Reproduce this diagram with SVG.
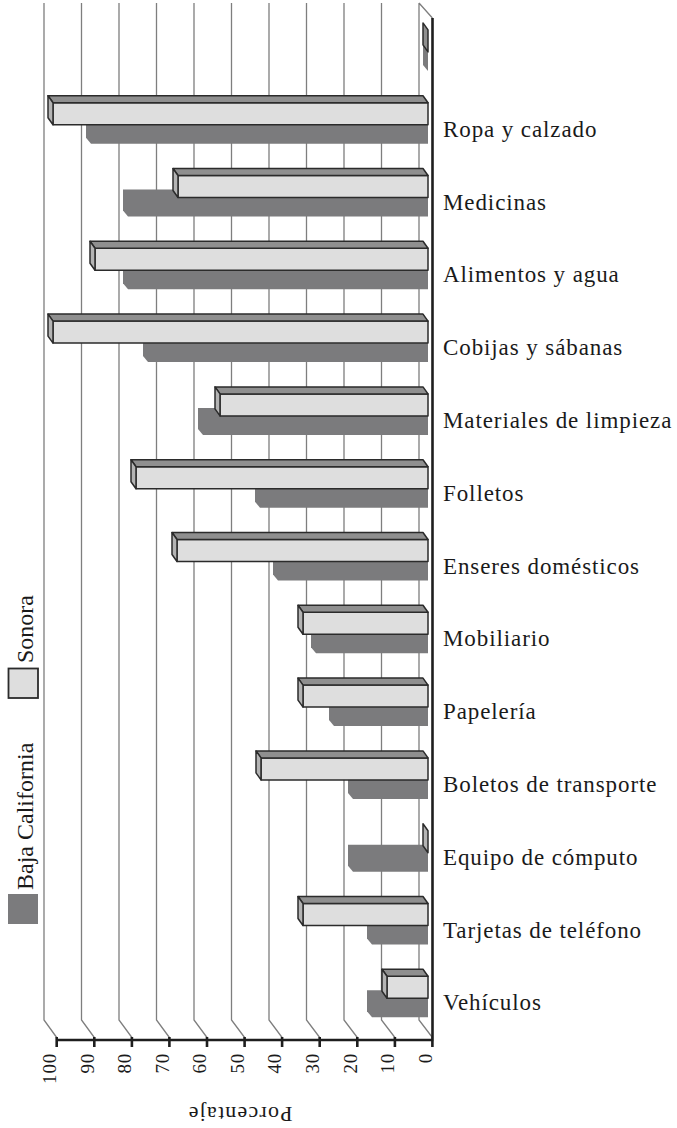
<svg xmlns="http://www.w3.org/2000/svg" width="677" height="1128" viewBox="0 0 677 1128">
<style>
.grid{stroke:#7e7e7e;stroke-width:1.3;fill:none}
.axis{stroke:#1e1e1e;stroke-width:2.6;fill:none}
.sf{fill:#dedede;stroke:#2b2b2b;stroke-width:1.5;stroke-linejoin:round}
.st{fill:#8f8f8f;stroke:#2b2b2b;stroke-width:1.5;stroke-linejoin:round}
.ss{fill:#b4b4b4;stroke:#2b2b2b;stroke-width:1.5;stroke-linejoin:round}
.bc{fill:#7b7b7d}
.lbl{font-family:"Liberation Serif",serif;font-size:23px;fill:#1a1a1a;letter-spacing:0.9px}
.tick{font-family:"Liberation Serif",serif;font-size:19px;fill:#1a1a1a;letter-spacing:0.8px;text-anchor:end}
.ttl{font-family:"Liberation Serif",serif;font-size:22px;fill:#1a1a1a;letter-spacing:1.2px;text-anchor:middle}
.leg{font-family:"Liberation Serif",serif;font-size:24px;fill:#1a1a1a}
</style>
<rect width="677" height="1128" fill="#ffffff"/>
<g id="gridlines">
<path class="grid" d="M44 3V1020L56.7 1037.5M81.5 3V1020L94.3 1037.5M119 3V1020L131.9 1037.5M156.5 3V1020L169.4 1037.5M194 3V1020L207 1037.5M231.5 3V1020L244.6 1037.5M269 3V1020L282.1 1037.5M306.5 3V1020L319.7 1037.5M344 3V1020L357.3 1037.5M381.5 3V1020L394.9 1037.5M419 3V1020L432.4 1037.5M419 3L432.4 18"/>
</g>
<g id="cat-empty" transform="translate(0,22.9)">
<polygon class="bc" points="423,21 428,27 428,48 423,42"/>
<polygon class="st" points="423,0 428,7 428,29 423,22"/>
</g>
<g id="cat-ropa" transform="translate(0,95.7)">
<polygon class="bc" points="86,21 428,21 428,48 91,48 86,42"/>
<rect class="sf" x="53" y="7" width="375" height="22"/>
<polygon class="st" points="48,0 423,0 428,7 53,7"/>
<polygon class="ss" points="48,0 53,7 53,29 48,22"/>
<text class="lbl" x="443" y="41">Ropa y calzado</text>
</g>
<g id="cat-medicinas" transform="translate(0,168.5)">
<polygon class="bc" points="123,21 428,21 428,48 128,48 123,42"/>
<rect class="sf" x="178" y="7" width="250" height="22"/>
<polygon class="st" points="173,0 423,0 428,7 178,7"/>
<polygon class="ss" points="173,0 178,7 178,29 173,22"/>
<text class="lbl" x="443" y="41">Medicinas</text>
</g>
<g id="cat-alimentos" transform="translate(0,241.3)">
<polygon class="bc" points="123,21 428,21 428,48 128,48 123,42"/>
<rect class="sf" x="95" y="7" width="333" height="22"/>
<polygon class="st" points="90,0 423,0 428,7 95,7"/>
<polygon class="ss" points="90,0 95,7 95,29 90,22"/>
<text class="lbl" x="443" y="41">Alimentos y agua</text>
</g>
<g id="cat-cobijas" transform="translate(0,314.1)">
<polygon class="bc" points="143,21 428,21 428,48 148,48 143,42"/>
<rect class="sf" x="53" y="7" width="375" height="22"/>
<polygon class="st" points="48,0 423,0 428,7 53,7"/>
<polygon class="ss" points="48,0 53,7 53,29 48,22"/>
<text class="lbl" x="443" y="41">Cobijas y sábanas</text>
</g>
<g id="cat-materiales" transform="translate(0,386.9)">
<polygon class="bc" points="198,21 428,21 428,48 203,48 198,42"/>
<rect class="sf" x="220" y="7" width="208" height="22"/>
<polygon class="st" points="215,0 423,0 428,7 220,7"/>
<polygon class="ss" points="215,0 220,7 220,29 215,22"/>
<text class="lbl" x="443" y="41">Materiales de limpieza</text>
</g>
<g id="cat-folletos" transform="translate(0,459.7)">
<polygon class="bc" points="255,21 428,21 428,48 260,48 255,42"/>
<rect class="sf" x="136" y="7" width="292" height="22"/>
<polygon class="st" points="131,0 423,0 428,7 136,7"/>
<polygon class="ss" points="131,0 136,7 136,29 131,22"/>
<text class="lbl" x="443" y="41">Folletos</text>
</g>
<g id="cat-enseres" transform="translate(0,532.5)">
<polygon class="bc" points="273,21 428,21 428,48 278,48 273,42"/>
<rect class="sf" x="177" y="7" width="251" height="22"/>
<polygon class="st" points="172,0 423,0 428,7 177,7"/>
<polygon class="ss" points="172,0 177,7 177,29 172,22"/>
<text class="lbl" x="443" y="41">Enseres domésticos</text>
</g>
<g id="cat-mobiliario" transform="translate(0,605.3)">
<polygon class="bc" points="311,21 428,21 428,48 316,48 311,42"/>
<rect class="sf" x="303" y="7" width="125" height="22"/>
<polygon class="st" points="298,0 423,0 428,7 303,7"/>
<polygon class="ss" points="298,0 303,7 303,29 298,22"/>
<text class="lbl" x="443" y="41">Mobiliario</text>
</g>
<g id="cat-papeleria" transform="translate(0,678.1)">
<polygon class="bc" points="329,21 428,21 428,48 334,48 329,42"/>
<rect class="sf" x="303" y="7" width="125" height="22"/>
<polygon class="st" points="298,0 423,0 428,7 303,7"/>
<polygon class="ss" points="298,0 303,7 303,29 298,22"/>
<text class="lbl" x="443" y="41">Papelería</text>
</g>
<g id="cat-boletos" transform="translate(0,750.9)">
<polygon class="bc" points="348,21 428,21 428,48 353,48 348,42"/>
<rect class="sf" x="261" y="7" width="167" height="22"/>
<polygon class="st" points="256,0 423,0 428,7 261,7"/>
<polygon class="ss" points="256,0 261,7 261,29 256,22"/>
<text class="lbl" x="443" y="41">Boletos de transporte</text>
</g>
<g id="cat-equipo" transform="translate(0,823.7)">
<polygon class="bc" points="348,21 428,21 428,48 353,48 348,42"/>
<polygon class="ss" points="423,0 428,7 428,29 423,22"/>
<text class="lbl" x="443" y="41">Equipo de cómputo</text>
</g>
<g id="cat-tarjetas" transform="translate(0,896.5)">
<polygon class="bc" points="367,21 428,21 428,48 372,48 367,42"/>
<rect class="sf" x="303" y="7" width="125" height="22"/>
<polygon class="st" points="298,0 423,0 428,7 303,7"/>
<polygon class="ss" points="298,0 303,7 303,29 298,22"/>
<text class="lbl" x="443" y="41">Tarjetas de teléfono</text>
</g>
<g id="cat-vehiculos" transform="translate(0,969.3)">
<polygon class="bc" points="367,21 428,21 428,48 372,48 367,42"/>
<rect class="sf" x="387" y="7" width="41" height="22"/>
<polygon class="st" points="382,0 423,0 428,7 387,7"/>
<polygon class="ss" points="382,0 387,7 387,29 382,22"/>
<text class="lbl" x="443" y="41">Vehículos</text>
</g>
<g id="axes">
<path class="axis" d="M432.5 18V1040M56.5 1040H433.8M56.7 1037V1047M94.3 1037V1047M131.9 1037V1047M169.4 1037V1047M207 1037V1047M244.6 1037V1047M282.1 1037V1047M319.7 1037V1047M357.3 1037V1047M394.9 1037V1047M432.4 1037V1047"/>
<g class="tick">
<text transform="translate(56,1053) rotate(-90)">100</text>
<text transform="translate(93.6,1053) rotate(-90)">90</text>
<text transform="translate(131.2,1053) rotate(-90)">80</text>
<text transform="translate(168.7,1053) rotate(-90)">70</text>
<text transform="translate(206.3,1053) rotate(-90)">60</text>
<text transform="translate(243.9,1053) rotate(-90)">50</text>
<text transform="translate(281.4,1053) rotate(-90)">40</text>
<text transform="translate(319,1053) rotate(-90)">30</text>
<text transform="translate(356.6,1053) rotate(-90)">20</text>
<text transform="translate(394.2,1053) rotate(-90)">10</text>
<text transform="translate(431.7,1053) rotate(-90)">0</text>
</g>
<text class="ttl" transform="translate(240,1107) rotate(180)">Porcentaje</text>
</g>
<g id="legend">
<rect x="8.5" y="668.5" width="29.5" height="29.5" fill="#dedede" stroke="#2b2b2b" stroke-width="1.8"/>
<text class="leg" transform="translate(33,663) rotate(-90)">Sonora</text>
<rect x="8" y="894" width="30" height="30" fill="#7b7b7d"/>
<text class="leg" transform="translate(33,890) rotate(-90)">Baja California</text>
</g>
</svg>
